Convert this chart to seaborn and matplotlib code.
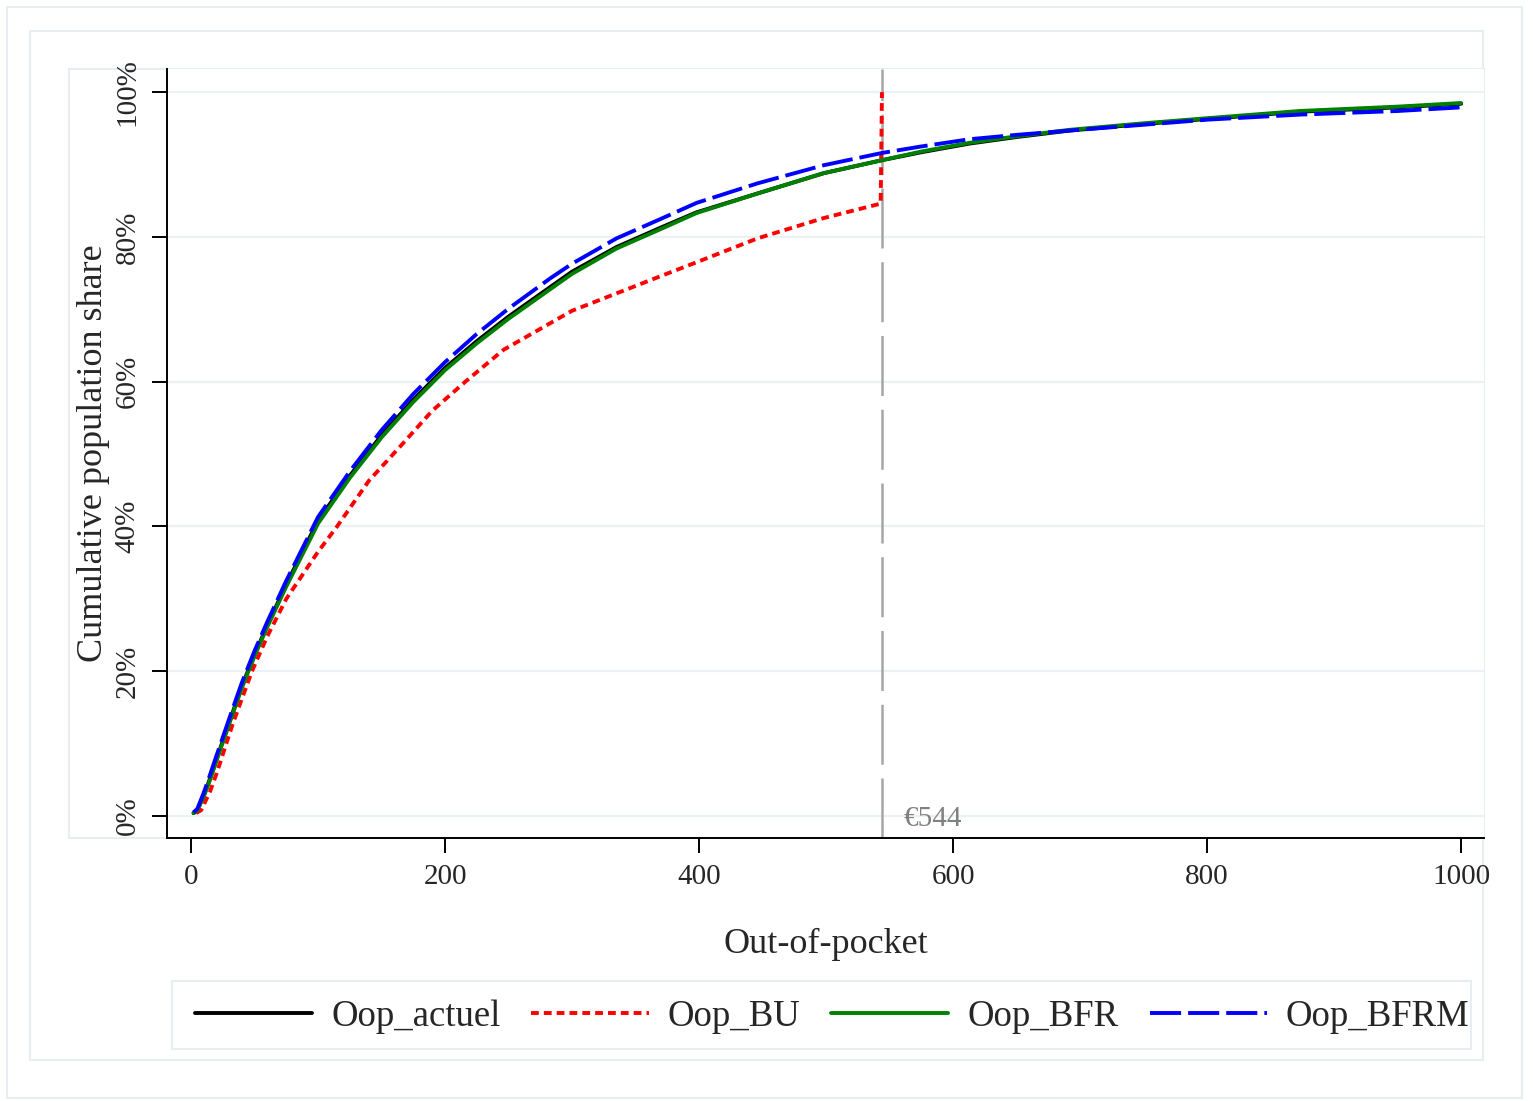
import pandas as pd
import seaborn as sns
import matplotlib.pyplot as plt
from matplotlib.patches import Rectangle

# Valores (Out-of-pocket en euros, parte acumulada en %)
x_comun = [2, 5, 10, 15, 20, 30, 40, 50, 60, 75, 100, 125, 150, 175, 200, 225, 250,
           283, 300, 335, 370, 398, 446, 498, 544, 575, 613, 650, 692, 750, 800,
           873, 950, 1000]
oop_actuel = [0.4, 0.8, 2.8, 5.2, 7.8, 12.9, 17.9, 22.3, 26.3, 32.0, 40.8, 47.0, 52.6,
              57.5, 61.9, 65.6, 69.0, 73.1, 75.2, 78.6, 81.3, 83.4, 86.0, 88.8, 90.6,
              91.7, 92.9, 93.8, 94.7, 95.6, 96.3, 97.3, 97.9, 98.4]
oop_bfr = [0.4, 0.8, 2.7, 5.0, 7.6, 12.7, 17.7, 22.1, 26.1, 31.7, 40.4, 46.7, 52.3,
           57.2, 61.6, 65.3, 68.7, 72.8, 74.9, 78.4, 81.1, 83.3, 86.0, 88.8, 90.6,
           91.8, 93.0, 93.9, 94.8, 95.7, 96.4, 97.4, 98.0, 98.5]
oop_bfrm = [0.5, 1.0, 3.2, 5.7, 8.3, 13.4, 18.4, 22.8, 26.8, 32.5, 41.3, 47.6, 53.3,
            58.3, 62.7, 66.6, 70.1, 74.3, 76.3, 79.8, 82.5, 84.7, 87.4, 89.9, 91.6,
            92.5, 93.5, 94.1, 94.7, 95.5, 96.2, 96.9, 97.4, 97.9]
x_bu = [4, 8, 15, 20, 33, 48, 60, 75, 100, 115, 140, 167, 190, 216, 246, 283, 300,
        335, 370, 398, 446, 498, 543, 544]
oop_bu = [0.4, 0.8, 3.4, 5.8, 12.8, 20.0, 24.8, 30.0, 36.5, 40.0, 46.3, 51.5, 56.0,
          60.0, 64.4, 68.1, 69.8, 72.2, 74.6, 76.5, 79.8, 82.6, 84.6, 100.0]
seuil = 544
series = ['Oop_actuel', 'Oop_BU', 'Oop_BFR', 'Oop_BFRM']

df = pd.concat([
    pd.DataFrame({'oop': x_comun, 'part': oop_actuel, 'serie': 'Oop_actuel'}),
    pd.DataFrame({'oop': x_bu, 'part': oop_bu, 'serie': 'Oop_BU'}),
    pd.DataFrame({'oop': x_comun, 'part': oop_bfr, 'serie': 'Oop_BFR'}),
    pd.DataFrame({'oop': x_comun, 'part': oop_bfrm, 'serie': 'Oop_BFRM'}),
], ignore_index=True)

sns.set_style('white')
plt.rcParams['font.family'] = ['Liberation Serif', 'DejaVu Serif']

W, H = 1533, 1101
fig = plt.figure(figsize=(W / 100, H / 100), dpi=100)
ax = fig.add_axes([167 / W, 1 - 838 / H, (1484 - 167) / W, (838 - 69) / H])

couleurs = {'Oop_actuel': 'black', 'Oop_BU': '#ff0000', 'Oop_BFR': '#008000', 'Oop_BFRM': '#0000ff'}
tirets = {'Oop_actuel': '', 'Oop_BU': (2, 1.3), 'Oop_BFR': '', 'Oop_BFRM': (8, 1.8)}

ax.axvline(seuil, color='#a6a6a6', lw=1.8, dashes=(24, 5.5), zorder=1)
sns.lineplot(data=df, x='oop', y='part', hue='serie', style='serie', hue_order=series,
             style_order=series, palette=couleurs, dashes=tirets, estimator=None,
             sort=False, lw=2.8, legend=False, ax=ax, zorder=3)
ax.text(seuil + 17, 0, '€544', color='#808080', fontsize=21, va='center_baseline', ha='left')

ax.set_xlim(-18.9, 1018)
ax.set_ylim(-3.04, 103.2)
ax.set_xticks([0, 200, 400, 600, 800, 1000])
ax.set_yticks([0, 20, 40, 60, 80, 100])
ax.set_yticklabels([f'{v}%' for v in [0, 20, 40, 60, 80, 100]], rotation=90, va='center')
ax.tick_params(axis='both', labelsize=21, length=11, width=1.4, direction='out',
               color='black', pad=8)
ax.tick_params(axis='x', bottom=True)
ax.tick_params(axis='y', left=True)
ax.grid(axis='y', color='#eaf2f3', lw=1.6)
ax.grid(axis='x', visible=False)
for s in ['top', 'right']:
    ax.spines[s].set_visible(False)
for s in ['left', 'bottom']:
    ax.spines[s].set_color('black')
    ax.spines[s].set_linewidth(1.4)
ax.set_xlabel('Out-of-pocket', fontsize=26, labelpad=27)
ax.set_ylabel('Cumulative population share', fontsize=26, labelpad=3)

# Cadres clairs à la Stata (dont celui de la légende)
cadre = '#e6eef1'
for (x0, y0, x1, y1) in [(7, 7, 1522, 1098), (30, 31, 1483, 1060), (69, 69, 1484, 838),
                         (172, 981, 1471, 1049)]:
    fig.add_artist(Rectangle((x0 / W, 1 - y1 / H), (x1 - x0) / W, (y1 - y0) / H,
                             transform=fig.transFigure, fill=False, ec=cadre, lw=1.5, zorder=0))

fig.legend(ax.lines[1:], series, loc='center left', ncol=4,
           bbox_to_anchor=(195 / W, 1 - 1017 / H), fontsize=26.5, handlelength=3.18,
           handletextpad=0.52, columnspacing=0.84, frameon=False, borderpad=0,
           borderaxespad=0)

fig.savefig('out.png', dpi=100)
